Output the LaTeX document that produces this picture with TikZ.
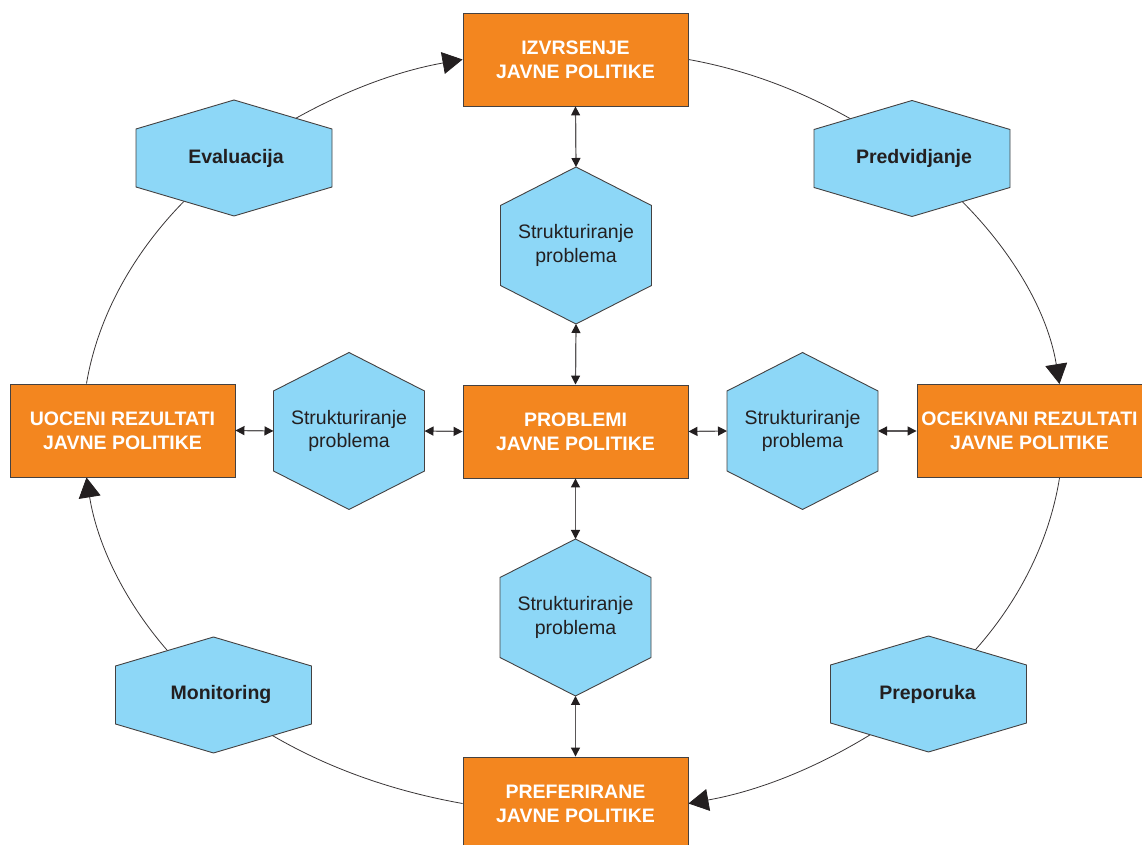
\documentclass[tikz,border=0pt]{standalone}
\usepackage{fontspec}
\setmainfont{Liberation Sans}
\usetikzlibrary{arrows.meta,calc}
\definecolor{boxorange}{HTML}{F3861F}
\definecolor{hexblue}{HTML}{8DD7F7}
\definecolor{ink}{HTML}{231F20}
\pgfdeclarelayer{background}
\pgfsetlayers{background,main}
\tikzset{
  rectbox/.style={rectangle, draw=ink!85, line width=0.9pt, fill=boxorange,
    minimum width=225pt, minimum height=93pt, inner sep=0pt, text=white,
    font=\fontsize{19.5}{24}\selectfont\bfseries, align=center},
  hexfill/.style={draw=ink!85, line width=0.9pt, fill=hexblue},
  hexlabel/.style={text=ink, font=\fontsize{19.5}{24}\selectfont\bfseries, align=center, inner sep=0pt},
  strlabel/.style={text=ink, font=\fontsize{19.5}{23.5}\selectfont, align=center, inner sep=0pt},
  twoway/.style={draw=ink!75, line width=1.2pt,
    {Triangle[length=9pt,width=9pt,color=ink]}-{Triangle[length=9pt,width=9pt,color=ink]}},
  cycleline/.style={draw=ink!90, line width=0.8pt, looseness=0.87},
  cyclearrow/.style={cycleline, -{Triangle[length=20pt,width=22pt,color=ink]}},
}
\newcommand{\VHex}[3]{%
  \draw[hexfill] ([shift={(0,78.5)}]#1) -- ([shift={(75.5,40)}]#1) -- ([shift={(75.5,-40)}]#1)
    -- ([shift={(0,-78.5)}]#1) -- ([shift={(-75.5,-40)}]#1) -- ([shift={(-75.5,40)}]#1) -- cycle;
  \node[strlabel] (#2) at (#1) {#3};
  \coordinate (#2-n) at ([shift={(0,78.5)}]#1);
  \coordinate (#2-s) at ([shift={(0,-78.5)}]#1);
  \coordinate (#2-e) at ([shift={(75.5,0)}]#1);
  \coordinate (#2-w) at ([shift={(-75.5,0)}]#1);
}
\newcommand{\HHex}[4][0]{%
  \draw[hexfill] ([shift={(0,58)}]#2) -- ([shift={(98,29)}]#2) -- ([shift={(98,-29)}]#2)
    -- ([shift={(0,-58)}]#2) -- ([shift={(-98,-29)}]#2) -- ([shift={(-98,29)}]#2) -- cycle;
  \coordinate (#3) at (#2);
  \node[hexlabel] (#3-text) at ([xshift=#1]#2) {#4};
}
\begin{document}
\begin{tikzpicture}[x=1pt,y=1pt]
\useasboundingbox (0,0) rectangle (1142,845);

% rectangles
\node[rectbox] (T) at (575.5,785.5) {IZVRSENJE\\JAVNE POLITIKE};
\node[rectbox] (C) at (575.5,413.5) {PROBLEMI\\JAVNE POLITIKE};
\node[rectbox] (L) at (122.5,414.5) {UOCENI REZULTATI\\JAVNE POLITIKE};
\node[rectbox] (R) at (1029.5,414) {OCEKIVANI REZULTATI\\JAVNE POLITIKE};
\node[rectbox] (B) at (575.5,41.5) {PREFERIRANE\\JAVNE POLITIKE};

% hexagons
\VHex{576,599.5}{HT}{Strukturiranje\\problema}
\VHex{575.5,227.5}{HB}{Strukturiranje\\problema}
\VHex{349,414}{HL}{Strukturiranje\\problema}
\VHex{802.5,414}{HR}{Strukturiranje\\problema}
\HHex[2pt]{234,687}{Eval}{Evaluacija}
\HHex[2pt]{912,686.5}{Pred}{Predvidjanje}
\HHex[7.5pt]{213.5,150}{Mon}{Monitoring}
\HHex[-1pt]{928.5,151}{Prep}{Preporuka}

% outer cycle
\begin{pgfonlayer}{background}
\draw[cycleline] ([xshift=-36pt]L.north) to[out=80.5,in=216.3] (Eval);
\draw[cyclearrow] (Eval) to[out=36.3,in=190.1] (T.west);
\draw[cycleline] (T.east) to[out=-10.2,in=143.9] (Pred);
\draw[cyclearrow] (Pred) to[out=-36.1,in=99.3] ([xshift=30pt]R.north);
\draw[cycleline] ([xshift=30pt]R.south) to[out=-99.1,in=38.4] (Prep);
\draw[cyclearrow] (Prep) to[out=-141.6,in=10.1] (B.east);
\draw[cycleline] (B.west) to[out=169.9,in=-38.8] (Mon);
\draw[cyclearrow] (Mon) to[out=141.2,in=-80.9] ([xshift=-36pt]L.south);
\end{pgfonlayer}

% two-way links
\draw[twoway] (T.south) -- (HT-n);
\draw[twoway] (HT-s) -- (C.north);
\draw[twoway] (C.south) -- (HB-n);
\draw[twoway] (HB-s) -- (B.north);
\draw[twoway] (L.east) -- (HL-w);
\draw[twoway] (HL-e) -- (C.west);
\draw[twoway] (C.east) -- (HR-w);
\draw[twoway] (HR-e) -- (R.west);
\end{tikzpicture}
\end{document}
